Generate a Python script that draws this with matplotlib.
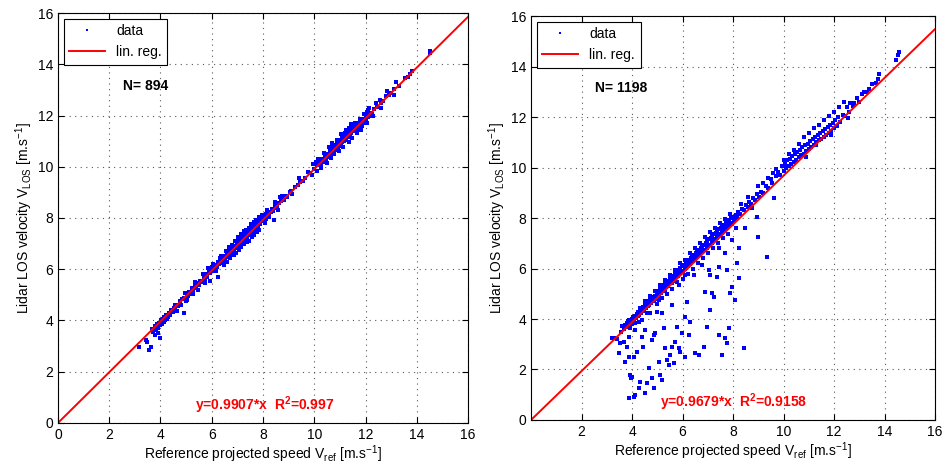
import numpy as np
import matplotlib
matplotlib.use("Agg")
import matplotlib.pyplot as plt

plt.rcParams['font.family'] = ['Liberation Sans', 'DejaVu Sans']
plt.rcParams['mathtext.fontset'] = 'custom'
plt.rcParams['mathtext.rm'] = 'Liberation Sans'
plt.rcParams['mathtext.it'] = 'Liberation Sans:italic'
plt.rcParams['mathtext.bf'] = 'Liberation Sans:bold'

# left panel: (Vref, Vlos) pairs
left_pts = [
    (3.15, 2.95), (3.45, 3.25), (3.48, 3.15), (3.55, 2.85), (3.62, 2.95), (3.68, 3.65),
    (3.72, 3.55), (3.78, 3.45), (3.80, 3.78), (3.83, 3.62), (3.86, 3.85), (3.90, 3.70),
    (3.92, 3.50), (3.95, 3.92), (3.98, 3.30), (4.00, 3.82), (4.02, 4.00), (4.05, 3.88),
    (4.08, 4.05), (4.12, 3.95), (4.15, 4.12), (4.18, 4.02), (4.22, 4.20), (4.28, 4.15),
    (4.32, 4.30), (4.38, 4.22), (4.42, 4.40), (4.48, 4.35), (4.52, 4.50), (4.58, 4.42),
    (4.62, 4.60), (4.70, 4.55), (4.75, 4.75), (4.80, 4.62), (4.85, 4.82), (4.90, 4.28),
    (4.92, 4.88), (4.98, 4.75), (5.02, 5.02), (5.08, 4.95), (5.12, 5.10), (5.18, 5.05),
    (5.22, 5.25), (5.28, 5.18), (5.35, 5.35), (5.40, 5.28), (5.45, 5.48), (5.52, 5.40),
    (5.55, 5.55), (5.62, 5.50), (5.68, 5.65), (5.72, 5.58), (5.78, 5.80), (5.82, 5.70),
    (5.88, 5.90), (5.92, 5.55), (5.95, 5.85), (6.00, 6.08), (6.02, 5.92), (6.08, 6.05),
    (6.12, 5.98), (6.15, 6.18), (6.20, 6.10), (6.25, 6.28), (6.30, 6.20), (6.32, 6.45),
    (6.38, 6.30), (6.42, 6.38), (6.45, 6.25), (6.50, 6.50), (6.52, 6.40), (6.58, 6.55),
    (6.62, 6.48), (6.65, 6.65), (6.70, 6.58), (6.72, 6.75), (6.75, 6.62), (6.80, 6.80),
    (6.82, 6.68), (6.85, 6.85), (6.88, 6.72), (6.90, 6.92), (6.95, 6.82), (6.98, 7.00),
    (7.00, 6.88), (7.02, 7.08), (7.05, 6.95), (7.08, 7.12), (7.10, 6.98), (7.12, 7.20),
    (7.15, 7.05), (7.18, 7.25), (7.20, 7.10), (7.22, 7.30), (7.25, 7.15), (7.28, 7.35),
    (7.30, 7.18), (7.32, 7.28), (7.35, 7.40), (7.38, 7.22), (7.40, 7.45), (7.42, 7.32),
    (7.45, 7.50), (7.48, 7.38), (7.50, 7.55), (7.52, 7.40), (7.55, 7.48), (7.58, 7.62),
    (7.60, 7.45), (7.62, 7.58), (7.65, 7.70), (7.68, 7.55), (7.70, 7.65), (7.72, 7.78),
    (7.75, 7.62), (7.78, 7.72), (7.80, 7.85), (7.82, 7.70), (7.85, 7.80), (7.88, 7.92),
    (7.90, 7.78), (7.95, 7.88), (7.98, 8.00), (8.02, 7.92), (8.05, 8.05), (8.10, 7.98),
    (8.12, 8.15), (8.18, 8.05), (8.22, 8.20), (8.30, 8.22), (8.35, 8.35), (8.40, 8.28),
    (8.45, 8.50), (8.50, 8.40), (8.55, 8.48), (8.62, 8.60), (8.70, 8.65), (8.75, 8.85),
    (8.80, 8.70), (8.90, 8.85), (8.95, 8.82), (9.05, 9.00), (9.10, 9.05), (9.25, 9.20),
    (9.35, 9.28), (9.45, 9.40), (9.55, 9.45), (9.65, 9.58), (9.75, 9.80), (9.85, 9.75),
    (9.95, 10.10), (10.00, 9.90), (10.05, 10.20), (10.10, 9.85), (10.12, 10.08), (10.20, 10.15),
    (10.25, 10.05), (10.30, 10.30), (10.35, 10.20), (10.40, 10.42), (10.45, 10.30), (10.50, 10.50),
    (10.55, 10.38), (10.60, 10.62), (10.62, 10.48), (10.68, 10.70), (10.72, 10.55), (10.75, 10.78),
    (10.80, 10.65), (10.82, 10.85), (10.85, 10.70), (10.90, 10.90), (10.92, 10.75), (10.95, 10.95),
    (11.00, 10.82), (11.02, 11.05), (11.05, 10.90), (11.08, 11.15), (11.10, 10.95), (11.12, 11.25),
    (11.15, 11.00), (11.18, 11.10), (11.20, 11.30), (11.22, 11.05), (11.25, 11.20), (11.28, 11.40),
    (11.30, 11.15), (11.32, 11.28), (11.35, 11.50), (11.38, 11.25), (11.40, 11.35), (11.42, 11.55),
    (11.45, 11.30), (11.50, 11.45), (11.52, 11.60), (11.55, 11.38), (11.60, 11.50), (11.62, 11.68),
    (11.65, 11.45), (11.70, 11.62), (11.72, 11.72), (11.75, 11.55), (11.80, 11.70), (11.85, 11.82),
    (11.88, 11.60), (11.92, 11.85), (11.95, 11.70), (12.00, 12.00), (12.02, 11.85), (12.05, 12.12),
    (12.08, 11.95), (12.10, 12.20), (12.15, 12.00), (12.20, 12.10), (12.25, 12.05), (12.35, 12.25),
    (12.45, 12.35), (12.55, 12.60), (12.62, 12.50), (12.70, 12.58), (12.80, 12.75), (12.90, 12.80),
    (13.00, 12.88), (13.10, 12.80), (13.20, 13.30), (13.30, 13.15), (13.55, 13.45), (13.65, 13.50),
    (13.80, 13.75), (13.75, 13.62), (14.50, 14.50), (14.52, 14.42),
]

# left panel: wider spread of the thick parts of the cloud
left_spread = [
    (4.25, 4.05), (4.55, 4.62), (4.65, 4.38), (4.95, 5.08), (5.05, 4.80), (5.25, 5.02),
    (5.35, 5.52), (5.45, 5.20), (5.65, 5.82), (5.75, 5.45), (5.85, 6.05), (6.05, 6.22),
    (6.18, 5.92), (6.26, 5.69), (6.35, 6.52), (6.48, 6.18), (6.55, 6.72), (6.60, 6.30),
    (6.68, 6.85), (6.72, 6.42), (6.78, 6.95), (6.85, 6.55), (6.92, 7.12), (6.96, 6.65),
    (7.04, 7.25), (7.06, 6.75), (7.14, 7.38), (7.16, 6.85), (7.24, 7.48), (7.26, 6.98),
    (7.33, 7.55), (7.36, 7.05), (7.44, 7.62), (7.46, 7.12), (7.53, 7.75), (7.56, 7.25),
    (7.63, 7.85), (7.66, 7.35), (7.74, 7.92), (7.76, 7.45), (7.84, 8.02), (7.86, 7.52),
    (7.96, 8.12), (8.06, 7.80), (8.15, 8.32), (8.25, 8.05), (8.42, 7.92), (8.48, 8.62),
    (8.58, 8.30), (8.68, 8.82), (9.15, 8.95), (9.40, 9.55), (9.90, 9.68), (10.15, 10.32),
    (10.28, 9.95), (10.38, 10.55), (10.48, 10.15), (10.58, 10.78), (10.65, 10.35), (10.70, 10.92),
    (10.78, 10.48), (10.88, 11.05), (10.97, 10.62), (11.04, 11.28), (11.14, 10.78), (11.24, 11.45),
    (11.34, 10.98), (11.44, 11.68), (11.48, 11.12), (11.58, 11.72), (11.68, 11.30), (11.78, 11.85),
    (11.84, 11.45), (11.94, 12.05), (12.04, 11.72), (12.12, 12.28), (12.30, 12.00), (12.40, 12.50),
    (12.60, 12.30), (12.85, 12.95), (13.10, 13.05),
]

# right panel: main band
right_band = [
    (3.30, 3.25), (3.40, 3.20), (3.55, 3.50), (3.62, 3.72), (3.68, 3.60), (3.72, 3.78),
    (3.75, 3.68), (3.80, 3.85), (3.82, 3.70), (3.85, 3.92), (3.88, 3.78), (3.90, 3.95),
    (3.92, 3.65), (3.95, 3.88), (3.98, 4.02), (4.00, 3.80), (4.02, 3.92), (4.05, 4.08),
    (4.08, 3.95), (4.10, 4.12), (4.12, 3.85), (4.15, 4.05), (4.18, 4.20), (4.22, 4.10),
    (4.25, 4.28), (4.28, 4.15), (4.32, 4.35), (4.35, 4.22), (4.38, 4.40), (4.42, 4.30),
    (4.45, 4.48), (4.48, 4.35), (4.52, 4.55), (4.55, 4.42), (4.58, 4.62), (4.62, 4.50),
    (4.65, 4.70), (4.68, 4.55), (4.72, 4.75), (4.75, 4.62), (4.78, 4.82), (4.82, 4.70),
    (4.85, 4.88), (4.88, 4.75), (4.92, 4.92), (4.95, 4.80), (4.98, 5.00), (5.02, 4.88),
    (5.05, 5.10), (5.08, 4.95), (5.12, 5.20), (5.15, 5.02), (5.18, 5.25), (5.22, 5.10),
    (5.25, 5.35), (5.28, 5.18), (5.32, 5.40), (5.35, 5.25), (5.38, 5.45), (5.42, 5.32),
    (5.45, 5.52), (5.48, 5.38), (5.52, 5.60), (5.55, 5.45), (5.58, 5.65), (5.62, 5.52),
    (5.65, 5.72), (5.68, 5.58), (5.72, 5.80), (5.75, 5.65), (5.78, 5.88), (5.82, 5.72),
    (5.85, 5.95), (5.88, 5.80), (5.92, 6.02), (5.95, 5.85), (5.98, 6.10), (6.02, 5.92),
    (6.05, 6.15), (6.08, 6.00), (6.12, 6.20), (6.15, 6.05), (6.18, 6.28), (6.22, 6.10),
    (6.25, 6.35), (6.28, 6.18), (6.32, 6.40), (6.35, 6.25), (6.38, 6.48), (6.42, 6.30),
    (6.45, 6.52), (6.48, 6.38), (6.52, 6.60), (6.55, 6.42), (6.58, 6.65), (6.62, 6.50),
    (6.65, 6.72), (6.68, 6.55), (6.72, 6.80), (6.75, 6.62), (6.78, 6.88), (6.82, 6.70),
    (6.85, 6.95), (6.88, 6.75), (6.92, 7.02), (6.95, 6.82), (6.98, 7.10), (7.02, 6.88),
    (7.05, 7.15), (7.08, 6.95), (7.12, 7.22), (7.15, 7.00), (7.18, 7.28), (7.22, 7.08),
    (7.25, 7.35), (7.28, 7.15), (7.32, 7.40), (7.35, 7.20), (7.38, 7.48), (7.42, 7.28),
    (7.45, 7.55), (7.48, 7.35), (7.52, 7.60), (7.55, 7.42), (7.58, 7.68), (7.62, 7.50),
    (7.65, 7.72), (7.68, 7.55), (7.72, 7.80), (7.75, 7.62), (7.78, 7.85), (7.82, 7.70),
    (7.85, 7.92), (7.88, 7.78), (7.92, 8.00), (7.95, 7.82), (8.00, 8.05), (8.05, 7.92),
    (8.10, 8.12), (8.15, 8.02), (8.20, 8.25), (8.28, 8.15), (8.35, 8.35), (8.42, 8.30),
    (8.50, 8.50), (8.58, 8.45), (8.65, 8.62), (8.72, 8.55), (8.80, 8.80), (8.88, 8.70),
    (8.95, 8.95), (9.02, 8.85), (9.10, 9.05), (9.20, 9.00), (9.30, 9.25), (9.40, 9.20),
    (9.50, 9.55), (9.55, 9.38), (9.60, 9.80), (9.70, 9.65), (9.80, 9.82), (9.88, 9.70),
    (9.95, 10.05), (10.00, 9.85), (10.05, 10.15), (10.10, 9.98), (10.15, 10.28), (10.20, 10.05),
    (10.25, 10.35), (10.30, 10.15), (10.35, 10.45), (10.40, 10.22), (10.45, 10.55), (10.50, 10.30),
    (10.55, 10.62), (10.60, 10.40), (10.65, 10.70), (10.70, 10.48), (10.75, 10.80), (10.80, 10.55),
    (10.85, 10.88), (10.90, 10.65), (10.95, 10.95), (11.00, 10.72), (11.05, 11.05), (11.10, 10.82),
    (11.15, 11.15), (11.20, 10.90), (11.25, 11.22), (11.30, 11.00), (11.35, 11.30), (11.40, 11.08),
    (11.45, 11.38), (11.50, 11.15), (11.55, 11.45), (11.60, 11.22), (11.65, 11.52), (11.70, 11.30),
    (11.75, 11.60), (11.80, 11.38), (11.85, 11.68), (11.90, 11.45), (11.95, 11.78), (12.00, 11.55),
    (12.05, 11.90), (12.10, 11.65), (12.15, 12.00), (12.25, 11.80), (12.35, 12.10), (12.45, 12.05),
    (12.50, 12.40), (12.55, 11.95), (12.65, 12.55), (12.75, 12.45), (12.90, 12.75), (13.00, 12.60),
    (13.10, 12.90), (13.30, 13.00), (13.50, 13.30), (13.65, 13.35), (13.75, 13.50), (13.80, 13.70),
    (14.45, 14.25), (14.52, 14.45), (14.58, 14.58),
]

# right panel: wider spread of the band
right_spread = [
    (4.30, 4.45), (4.50, 4.70), (4.60, 4.25), (4.70, 4.90), (4.90, 5.10), (5.00, 4.60),
    (5.10, 5.35), (5.20, 4.85), (5.30, 5.55), (5.40, 5.00), (5.50, 5.75), (5.60, 5.20),
    (5.70, 5.95), (5.80, 5.45), (5.90, 6.20), (6.00, 5.60), (6.10, 6.35), (6.20, 5.80),
    (6.30, 6.60), (6.40, 6.00), (6.50, 6.80), (6.60, 6.20), (6.70, 7.00), (6.80, 6.40),
    (6.90, 7.25), (7.00, 6.60), (7.10, 7.45), (7.20, 6.80), (7.30, 7.60), (7.40, 7.00),
    (7.50, 7.80), (7.60, 7.20), (7.70, 7.95), (7.80, 7.35), (7.90, 8.15), (8.10, 7.60),
    (8.30, 8.55), (8.60, 8.85), (8.75, 8.40), (9.00, 9.25), (9.20, 9.40), (9.40, 9.60),
    (9.70, 9.95), (10.00, 10.30), (10.20, 10.55), (10.40, 10.70), (10.60, 10.95), (10.80, 11.20),
    (10.90, 10.40), (11.00, 11.35), (11.20, 11.55), (11.30, 10.90), (11.40, 11.70), (11.60, 11.90),
    (11.80, 12.05), (11.90, 11.30), (12.00, 12.20), (12.20, 12.40), (12.40, 12.60), (12.60, 12.20),
    (12.80, 12.55), (13.20, 13.00), (13.40, 13.10),
]

# right panel: scattered low points
right_low = [
    (3.21, 3.23), (3.54, 3.04), (3.47, 2.64), (3.74, 2.31), (3.80, 2.90), (3.87, 2.51),
    (3.93, 1.78), (3.97, 1.65), (4.00, 1.72), (3.87, 0.86), (4.07, 0.92), (4.13, 0.99),
    (4.20, 2.70), (4.07, 2.51), (4.26, 1.25), (4.33, 1.52), (4.40, 3.30), (4.44, 2.90),
    (4.50, 1.06), (4.60, 1.45), (4.66, 2.05), (4.80, 1.65), (4.86, 1.25), (4.80, 3.17),
    (4.86, 3.37), (4.92, 3.43), (4.53, 3.56), (5.05, 2.31), (5.12, 1.78), (5.19, 1.58),
    (5.19, 4.22), (5.25, 3.63), (5.32, 2.84), (5.39, 2.38), (5.45, 2.18), (5.52, 2.57),
    (5.58, 2.90), (5.58, 4.55), (5.65, 2.24), (5.72, 3.10), (5.78, 3.70), (5.85, 2.84),
    (5.91, 2.70), (5.98, 3.43), (6.11, 4.09), (6.11, 2.51), (6.18, 4.69), (6.24, 3.37),
    (6.31, 3.89), (6.51, 2.64), (6.64, 2.57), (6.84, 2.90), (6.90, 5.08), (6.97, 3.70),
    (7.10, 4.36), (7.17, 5.02), (7.23, 4.88), (7.43, 3.37), (7.56, 2.57), (7.70, 3.23),
    (7.76, 3.04), (7.83, 3.63), (7.89, 5.02), (7.96, 5.28), (8.09, 4.75), (8.23, 5.61),
    (8.42, 2.84), (7.43, 6.07), (7.76, 5.94), (7.36, 5.68), (7.03, 5.94), (7.10, 5.74),
    (8.23, 6.80), (8.49, 7.59), (8.96, 8.05), (8.99, 7.23), (9.35, 6.44), (9.61, 8.78),
    (8.16, 6.20), (7.70, 6.60), (7.43, 6.80), (7.96, 7.13), (6.77, 6.14), (6.44, 5.74),
    (6.11, 5.74), (5.58, 5.41), (5.85, 5.35), (5.32, 5.15), (5.05, 4.75), (4.99, 4.29),
    (4.73, 4.22), (4.40, 3.96), (4.26, 3.89), (4.13, 3.56), (3.87, 3.30), (3.67, 3.10),
]

panels = [
    dict(pts=left_pts + left_spread, slope=0.9907, r2="0.997", n=894,
         xticks=[0, 2, 4, 6, 8, 10, 12, 14, 16]),
    dict(pts=right_band + right_spread + right_low, slope=0.9679, r2="0.9158", n=1198,
         xticks=[2, 4, 6, 8, 10, 12, 14, 16]),
]
# axes rectangles in figure fractions
rects = [[0.0614, 0.0962, 0.4344, 0.876], [0.5625, 0.1026, 0.428, 0.863]]
n_pos = [(2.55, 13.15), (2.55, 13.15)]
eq_pos = [(5.35, 0.7), (5.1, 0.7)]

fig = plt.figure(figsize=(9.44, 4.68), dpi=100)
for p, r, npos, epos in zip(panels, rects, n_pos, eq_pos):
    ax = fig.add_axes(r)
    x = np.array([q[0] for q in p['pts']])
    y = np.array([q[1] for q in p['pts']])
    ax.plot(x, y, 's', color='b', ms=2.6, mew=0, label='data')
    xl = np.array([0, 16])
    ax.plot(xl, p['slope'] * xl, color='r', lw=1.4, label='lin. reg.')
    ax.set_xlim(0, 16)
    ax.set_ylim(0, 16)
    ax.set_xticks(p['xticks'])
    ax.set_yticks(range(0, 17, 2))
    ax.tick_params(direction='in', top=True, right=True, labelsize=10, length=4)
    ax.grid(True, linestyle=(0, (1, 4)), color='0.35', lw=0.8)
    for s in ax.spines.values():
        s.set_linewidth(0.8)
    ax.set_xlabel('Reference projected speed V$_{\\mathrm{ref}}$ [m.s$^{-1}$]', fontsize=10, labelpad=1)
    ax.set_ylabel('Lidar LOS velocity V$_{\\mathrm{LOS}}$ [m.s$^{-1}$]', fontsize=10, labelpad=2)
    ax.text(npos[0], npos[1], 'N= %d' % p['n'], fontsize=10, fontweight='bold', va='center')
    ax.text(epos[0], epos[1], 'y=%.4f*x  R$^{\\mathbf{2}}$=%s' % (p['slope'], p['r2']),
            color='r', fontsize=10, fontweight='bold', va='center')
    leg = ax.legend(loc='upper left', fancybox=False, edgecolor='k', framealpha=1,
                    fontsize=10, borderaxespad=0.4, handlelength=2.6, markerscale=0.8)
    leg.get_frame().set_linewidth(0.8)

fig.savefig('out.png', dpi=100)
